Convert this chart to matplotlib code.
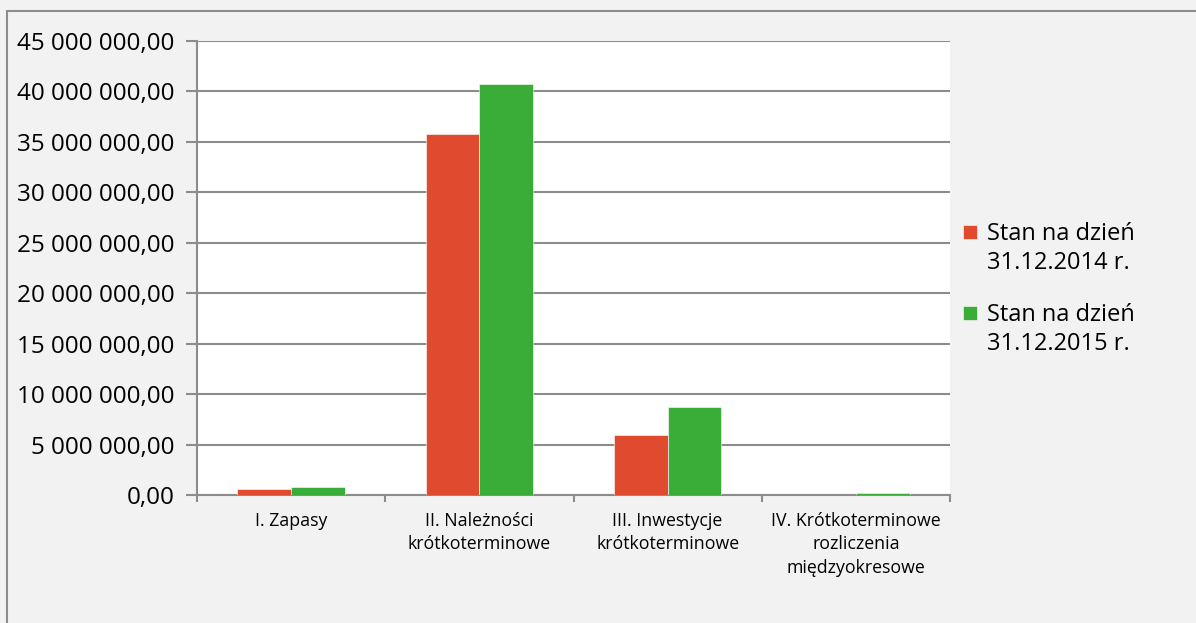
import numpy as np
import matplotlib.pyplot as plt
from matplotlib.patches import Rectangle
from matplotlib.container import BarContainer
from matplotlib.legend_handler import HandlerPatch, update_from_first_child

# kategorie i wartości
kategorie = ["I. Zapasy", "II. Należności\nkrótkoterminowe", "III. Inwestycje\nkrótkoterminowe",
             "IV. Krótkoterminowe\nrozliczenia\nmiędzyokresowe"]
stan2014 = [590000, 35750000, 5930000, 30000]
stan2015 = [860000, 40750000, 8700000, 180000]
serie = ["Stan na dzień\n31.12.2014 r.", "Stan na dzień\n31.12.2015 r."]
kolory = ["#e04a2e", "#3aac38"]
yticks = np.arange(0, 45000001, 5000000)

plt.rcParams['font.family'] = ['Open Sans', 'DejaVu Sans']

W, H = 1196, 623
fig = plt.figure(figsize=(W / 100, H / 100), dpi=100)
fig.patch.set_facecolor("#f2f2f2")

# ramka wykresu (widoczna tylko lewa i górna krawędź)
fig.patches.append(Rectangle((7 / W, -0.1), 1.2, 1 - 11 / H + 0.1, transform=fig.transFigure,
                             fill=False, edgecolor="#8c8c8c", linewidth=1.5))

x0, x1, y0, y1 = 197, 950, 40.7, 495.3
ax = fig.add_axes([x0 / W, 1 - y1 / H, (x1 - x0) / W, (y1 - y0) / H])
ax.set_facecolor("white")

x = np.arange(len(kategorie))
szer = 0.286
ax.bar(x - szer / 2, stan2014, szer, color=kolory[0], label=serie[0], zorder=3,
       edgecolor="white", linewidth=0.4)
ax.bar(x + szer / 2, stan2015, szer, color=kolory[1], label=serie[1], zorder=3,
       edgecolor="white", linewidth=0.4)

ax.set_xlim(-0.5, len(kategorie) - 0.5)
ax.set_ylim(0, 45000000)
ax.set_yticks(yticks)
ax.set_yticklabels([f"{v:,.2f}".replace(",", " ").replace(".", ",") for v in yticks], fontsize=17.5)
ax.yaxis.grid(True, color="#8c8c8c", linewidth=1.5, zorder=0)
ax.tick_params(axis="y", length=8, width=1.5, color="#8c8c8c", pad=8)

# ticki osi x na granicach kategorii, podpisy w środku
ax.set_xticks(np.arange(-0.5, len(kategorie)))
ax.set_xticklabels([])
ax.set_xticks(x, minor=True)
ax.set_xticklabels(kategorie, minor=True, fontsize=12.8, linespacing=1.38, va="top")
ax.tick_params(axis="x", which="major", length=5, width=1.5, color="#8c8c8c")
ax.tick_params(axis="x", which="minor", length=0, pad=12)

for s in ["top", "right"]:
    ax.spines[s].set_visible(False)
for s in ["left", "bottom"]:
    ax.spines[s].set_color("#8c8c8c")
    ax.spines[s].set_linewidth(1.5)


# kwadracik legendy przy pierwszej linii opisu
def kwadrat(legend, orig_handle, xdescent, ydescent, width, height, fontsize):
    s = width
    return Rectangle((-xdescent, -ydescent + height - s + 5.5), s, s)


leg = ax.legend(loc="upper left", bbox_to_anchor=(963 / W, 1 - 222 / H),
                bbox_transform=fig.transFigure, frameon=False, fontsize=17,
                handlelength=0.6, handleheight=1.9, handletextpad=0.4, labelspacing=1.15,
                borderpad=0, borderaxespad=0,
                handler_map={BarContainer: HandlerPatch(patch_func=kwadrat,
                                                        update_func=update_from_first_child)})
for t in leg.get_texts():
    t.set_linespacing(1.3)

fig.savefig("out.png", dpi=100, facecolor=fig.get_facecolor())
